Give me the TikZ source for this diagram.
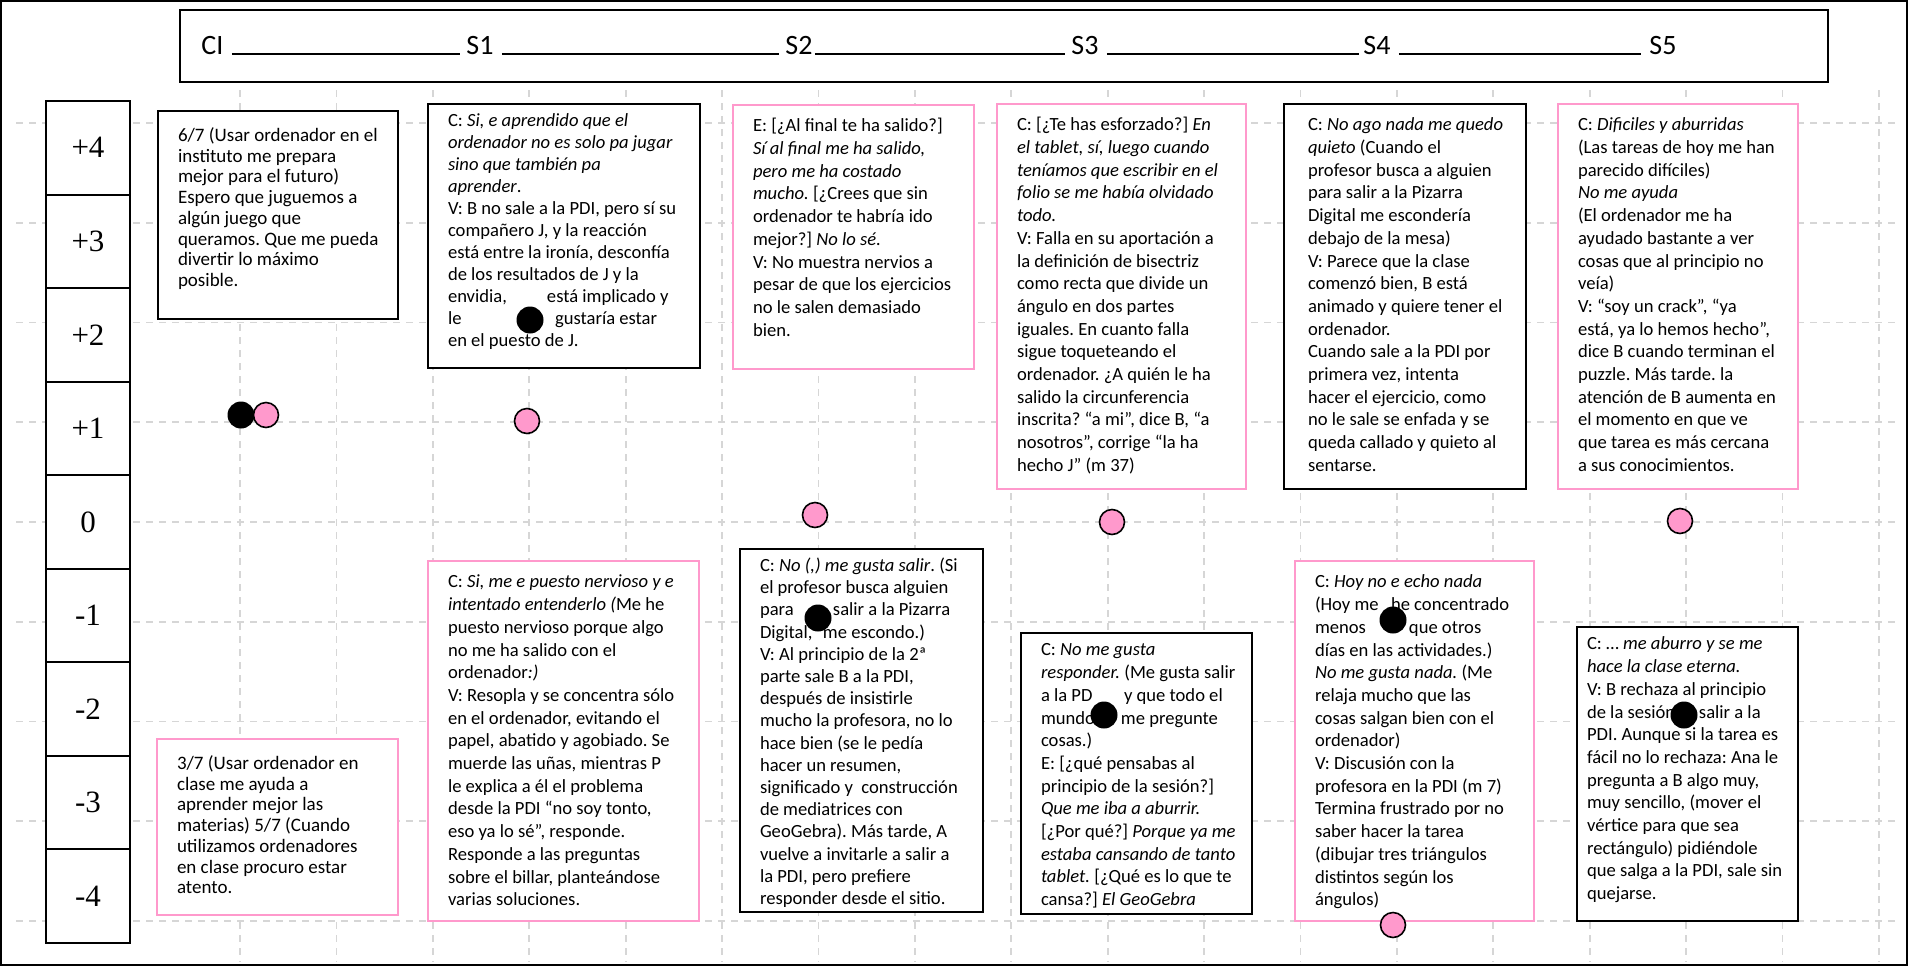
\documentclass[tikz,border=0pt]{standalone}
\usepackage{fontspec}
\setmainfont{Carlito}
\newfontfamily\axisfont{Liberation Serif}
\usetikzlibrary{positioning}
\frenchspacing

\definecolor{notepink}{RGB}{255,153,204}
\definecolor{gridgray}{RGB}{214,214,214}

% text of a comment box: fixed size, lines set by hand
\newcommand{\notefont}[1]{\fontsize{9.3}{#1}\selectfont}
\newcommand{\notebox}[3]{\parbox[t][#2][t]{#1}{\begin{tabular}[t]{@{}l@{}}#3\end{tabular}}}

\tikzstyle{note} = [draw, line width=1pt, fill=white, anchor=north west, inner xsep=10pt, inner ysep=5.5pt, font=\notefont{11.35}]
\tikzstyle{pinknote} = [note, draw=notepink]
\tikzstyle{tightnote} = [inner ysep=3.5pt]
\tikzstyle{cinote} = [inner ysep=8pt, font=\fontsize{9.5}{10.35}\selectfont]
\tikzstyle{levelcell} = [draw, line width=1pt, fill=white, minimum width=42pt, minimum height=46.78pt, inner sep=0pt, font=\axisfont\fontsize{15.5}{18}\selectfont]
\tikzstyle{sessionlabel} = [inner sep=0pt, font=\fontsize{14}{16}\selectfont]
\tikzstyle{underscore} = [line width=0.7pt, yshift=-1.5pt]
\tikzstyle{gridline} = [gridgray, line width=0.9pt, dash pattern=on 3.5pt off 3pt]
\tikzstyle{pinkdot} = [circle, draw=black, line width=0.8pt, fill=notepink, minimum size=12.5pt, inner sep=0pt]
\tikzstyle{blackdot} = [circle, fill=black, minimum size=13.5pt, inner sep=0pt]

\begin{document}
\begin{tikzpicture}[x=0.5pt, y=-0.5pt]
\useasboundingbox (0,0) rectangle (1908,966);
\draw[line width=1pt] (1,1) rectangle (1907,965);

% background paper
\foreach \k in {0,...,8}
  \draw[gridline] (16,{123+99.75*\k}) -- (1896,{123+99.75*\k});
\foreach \k in {0,...,17}
  \draw[gridline] ({240+96.4*\k},90) -- ({240+96.4*\k},962);

% sessions
\node[draw, line width=1pt, minimum width=824pt, minimum height=36pt, inner sep=0pt] (header) at (1004,46) {};
\node[sessionlabel, anchor=base west] (ci) at (201,54) {CI};
\node[sessionlabel, anchor=base west] (s1) at (466,54) {S1};
\node[sessionlabel, anchor=base west] (s2) at (785,54) {S2};
\node[sessionlabel, anchor=base west] (s3) at (1071,54) {S3};
\node[sessionlabel, anchor=base west] (s4) at (1363,54) {S4};
\node[sessionlabel, anchor=base west] (s5) at (1649,54) {S5};
\draw[underscore] ([xshift=4pt]ci.base east) -- ([xshift=-3pt]s1.base west);
\draw[underscore] ([xshift=4pt]s1.base east) -- ([xshift=-3pt]s2.base west);
\draw[underscore] ([xshift=1pt]s2.base east) -- ([xshift=-3pt]s3.base west);
\draw[underscore] ([xshift=4pt]s3.base east) -- ([xshift=-2pt]s4.base west);
\draw[underscore] ([xshift=4pt]s4.base east) -- ([xshift=-4pt]s5.base west);

% scale
\foreach \lab [count=\i] in {+4,+3,+2,+1,0,-1,-2,-3,-4}
  \node[levelcell] (level\i) at (88,{101+93.56*(\i-0.5)}) {\lab};

% boxes above the line
\node[note, cinote] (ciup) at (157,110) {\notebox{100pt}{88pt}{%
6/7 (Usar ordenador en el\\
instituto me prepara\\
mejor para el futuro)\\
Espero que juguemos a\\
algún juego que\\
queramos. Que me pueda\\
divertir lo máximo\\
posible.}};

\node[note, tightnote, font=\notefont{11}] (s1up) at (427,103) {\notebox{116pt}{125pt}{%
C: \textit{Si, e aprendido que el}\\
\textit{ordenador no es solo pa jugar}\\
\textit{sino que también pa}\\
\textit{aprender}.\\
V: B no sale a la PDI, pero sí su\\
compañero J, y la reacción\\
está entre la ironía, desconfía\\
de los resultados de J y la\\
\makebox[49.5pt][l]{envidia,}está implicado y\\
\makebox[53.5pt][l]{le}gustaría estar\\
en el puesto de J.}};

\node[pinknote] (s2up) at (732,104) {\notebox{100.5pt}{121pt}{%
E: [¿Al final te ha salido?]\\
\textit{Sí al final me ha salido,}\\
\textit{pero me ha costado}\\
\textit{mucho.} [¿Crees que sin\\
ordenador te habría ido\\
mejor?] \textit{No lo sé.}\\
V: No muestra nervios a\\
pesar de que los ejercicios\\
no le salen demasiado\\
bien.}};

\node[pinknote] (s3up) at (996,103) {\notebox{104.5pt}{181.5pt}{%
C: [¿Te has esforzado?] \textit{En}\\
\textit{el tablet, sí, luego cuando}\\
\textit{teníamos que escribir en el}\\
\textit{folio se me había olvidado}\\
\textit{todo.}\\
V: Falla en su aportación a\\
la definición de bisectriz\\
como recta que divide un\\
ángulo en dos partes\\
iguales. En cuanto falla\\
sigue toqueteando el\\
ordenador. ¿A quién le ha\\
salido la circunferencia\\
inscrita? “a mi”, dice B, “a\\
nosotros”, corrige “la ha\\
hecho J” (m 37)}};

\node[note, inner xsep=12pt] (s4up) at (1283,103) {\notebox{97pt}{181.5pt}{%
C: \textit{No ago nada me quedo}\\
\textit{quieto} (Cuando el\\
profesor busca a alguien\\
para salir a la Pizarra\\
Digital me escondería\\
debajo de la mesa)\\
V: Parece que la clase\\
comenzó bien, B está\\
animado y quiere tener el\\
ordenador.\\
Cuando sale a la PDI por\\
primera vez, intenta\\
hacer el ejercicio, como\\
no le sale se enfada y se\\
queda callado y quieto al\\
sentarse.}};

\node[pinknote] (s5up) at (1557,103) {\notebox{100pt}{181.5pt}{%
C: \textit{Dificiles y aburridas}\\
(Las tareas de hoy me han\\
parecido difíciles)\\
\textit{No me ayuda}\\
(El ordenador me ha\\
ayudado bastante a ver\\
cosas que al principio no\\
veía)\\
V: “soy un crack”, “ya\\
está, ya lo hemos hecho”,\\
dice B cuando terminan el\\
puzzle. Más tarde. la\\
atención de B aumenta en\\
el momento en que ve\\
que tarea es más cercana\\
a sus conocimientos.}};

% boxes below the line
\node[pinknote, cinote] (cidown) at (156,738) {\notebox{100.5pt}{72pt}{%
3/7 (Usar ordenador en\\
clase me ayuda a\\
aprender mejor las\\
materias) 5/7 (Cuando\\
utilizamos ordenadores\\
en clase procuro estar\\
atento.}};

\node[pinknote] (s1down) at (427,560) {\notebox{115.5pt}{169pt}{%
C: \textit{Si, me e puesto nervioso y e}\\
\textit{intentado entenderlo (}Me he\\
puesto nervioso porque algo\\
no me ha salido con el\\
ordenador\textit{:)}\\
V: Resopla y se concentra sólo\\
en el ordenador, evitando el\\
papel, abatido y agobiado. Se\\
muerde las uñas, mientras P\\
le explica a él el problema\\
desde la PDI “no soy tonto,\\
eso ya lo sé”, responde.\\
Responde a las preguntas\\
sobre el billar, planteándose\\
varias soluciones.}};

\node[note, tightnote, font=\notefont{11.1}] (s2down) at (739,548) {\notebox{101.5pt}{174.5pt}{%
C: \textit{No (,) me gusta salir}. (Si\\
el profesor busca alguien\\
\makebox[36.5pt][l]{para}salir a la Pizarra\\
\makebox[31.5pt][l]{Digital,}me escondo.)\\
V: Al principio de la 2ª\\
parte sale B a la PDI,\\
después de insistirle\\
mucho la profesora, no lo\\
hace bien (se le pedía\\
hacer un resumen,\\
significado y\ \ construcción\\
de mediatrices con\\
GeoGebra). Más tarde, A\\
vuelve a invitarle a salir a\\
la PDI, pero prefiere\\
responder desde el sitio.}};

\node[note, tightnote] (s3down) at (1020,632) {\notebox{95.5pt}{133.5pt}{%
C: \textit{No me gusta}\\
\textit{responder.} (Me gusta salir\\
\makebox[41.5pt][l]{a la PD}y que todo el\\
\makebox[40pt][l]{mundo}me pregunte\\
cosas.)\\
E: [¿qué pensabas al\\
principio de la sesión?]\\
\textit{Que me iba a aburrir.}\\
{}[¿Por qué?] \textit{Porque ya me}\\
\textit{estaba cansando de tanto}\\
\textit{tablet.} [¿Qué es lo que te\\
cansa?] \textit{El GeoGebra}}};

\node[pinknote] (s4down) at (1294,560) {\notebox{99.5pt}{169pt}{%
C: \textit{Hoy no e echo nada}\\
\makebox[38pt][l]{(Hoy me}he concentrado\\
\makebox[47pt][l]{menos}que otros\\
días en las actividades.)\\
\textit{No me gusta nada.} (Me\\
relaja mucho que las\\
cosas salgan bien con el\\
ordenador)\\
V: Discusión con la\\
profesora en la PDI (m 7)\\
Termina frustrado por no\\
saber hacer la tarea\\
(dibujar tres triángulos\\
distintos según los\\
ángulos)}};

\node[note, tightnote, inner xsep=5pt] (s5down) at (1576,626) {\notebox{100.5pt}{140pt}{%
C: … \textit{me aburro y se me}\\
\textit{hace la clase eterna.}\\
V: B rechaza al principio\\
\makebox[56pt][l]{de la sesión}salir a la\\
PDI. Aunque si la tarea es\\
fácil no lo rechaza: Ana le\\
pregunta a B algo muy,\\
muy sencillo, (mover el\\
vértice para que sea\\
rectángulo) pidiéndole\\
que salga a la PDI, sale sin\\
quejarse.}};

% ratings
\node[blackdot] (ciblack) at (241,415) {};
\node[pinkdot] (cipink) at (266,415) {};
\node[pinkdot] (s1pink) at (527,421) {};
\node[blackdot] (s1black) at (530,320) {};
\node[pinkdot] (s2pink) at (815,515) {};
\node[blackdot] (s2black) at (818,618) {};
\node[pinkdot] (s3pink) at (1112,522) {};
\node[blackdot] (s3black) at (1104,715) {};
\node[blackdot] (s4black) at (1393,620) {};
\node[pinkdot] (s4pink) at (1393,925) {};
\node[pinkdot] (s5pink) at (1680,521) {};
\node[blackdot] (s5black) at (1684,715) {};
\end{tikzpicture}
\end{document}
